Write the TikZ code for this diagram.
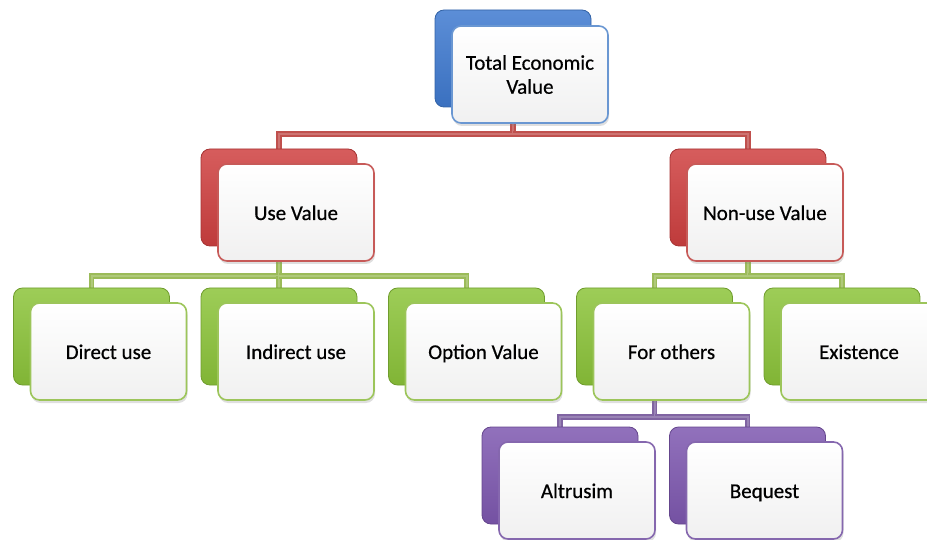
\documentclass[tikz,border=0pt]{standalone}
\usepackage{fontspec}
\setmainfont{Carlito}
\newfontfamily\boxfont[FakeBold=0.6]{Carlito}
\usetikzlibrary{shadows,backgrounds}
\definecolor{cblue}{HTML}{3F7AD0}
\definecolor{cred}{HTML}{CF4040}
\definecolor{cgreen}{HTML}{8CC43A}
\definecolor{cpurple}{HTML}{7E58B0}
\definecolor{lblue}{HTML}{6A97D2}
\definecolor{lred}{HTML}{C75A58}
\definecolor{lgreen}{HTML}{9CC55A}
\definecolor{lpurple}{HTML}{8567AE}
\definecolor{kred}{HTML}{C0504D}
\definecolor{kgreen}{HTML}{9BBB59}
\definecolor{kpurple}{HTML}{8064A2}
\begin{document}
\begin{tikzpicture}[x=1pt,y=-1pt,
  backbox/.style={rectangle, rounded corners=9pt, minimum width=156pt, minimum height=97pt,
    inner sep=0pt, draw=#1!80!black, line width=0.8pt, top color=#1!85!white, bottom color=#1!92!black},
  frontbox/.style={rectangle, rounded corners=9pt, minimum width=156pt, minimum height=97pt,
    inner sep=0pt, draw=#1, line width=1.6pt, top color=white, bottom color=#1!8!black!6!white,
    drop shadow={shadow xshift=1pt, shadow yshift=-3pt, opacity=0.25},
    font=\boxfont\fontsize{21}{24}\selectfont, align=center, text=black,
    text height=16pt, text depth=1pt},
  conn/.style={draw=#1, double=#1!80!white, double distance=2pt, line width=1.7pt}
]
\useasboundingbox (0,0) rectangle (927,540);
% top
\node[backbox=cblue] (tevb) at (513,58.5) {};
\node[frontbox=lblue, text height={}, text depth={}] (tev) at (530,74.5) {Total Economic\\Value};
% level 2
\node[backbox=cred] (uvb) at (279,197.5) {};
\node[frontbox=lred] (uv) at (296,212.5) {Use Value};
\node[backbox=cred] (nuvb) at (748,197.5) {};
\node[frontbox=lred] (nuv) at (765,212.5) {Non-use Value};
% level 3
\node[backbox=cgreen] (dub) at (91.5,336.5) {};
\node[frontbox=lgreen] (du) at (108.5,351.5) {Direct use};
\node[backbox=cgreen] (iub) at (279,336.5) {};
\node[frontbox=lgreen] (iu) at (296,351.5) {Indirect use};
\node[backbox=cgreen] (ovb) at (466.5,336.5) {};
\node[frontbox=lgreen] (ov) at (483.5,351.5) {Option Value};
\node[backbox=cgreen] (fob) at (654.5,336.5) {};
\node[frontbox=lgreen] (fo) at (671.5,351.5) {For others};
\node[backbox=cgreen] (exb) at (842,336.5) {};
\node[frontbox=lgreen] (ex) at (859,351.5) {Existence};
% level 4
\node[backbox=cpurple] (alb) at (560,475.5) {};
\node[frontbox=lpurple] (al) at (577,490.5) {Altrusim};
\node[backbox=cpurple] (beb) at (747.5,475.5) {};
\node[frontbox=lpurple] (be) at (764.5,490.5) {Bequest};
% bars
\coordinate (bar1) at (0,134);
\coordinate (bar2) at (0,276);
\coordinate (bar3) at (0,417);
\begin{pgfonlayer}{background}
\draw[conn=kred] (tevb.south) -- (tevb.south |- bar1) -| (uvb.north);
\draw[conn=kred] (tevb.south |- bar1) -| (nuvb.north);
\draw[conn=kgreen] (uvb.south) -- (uvb.south |- bar2) -| (dub.north);
\draw[conn=kgreen] (uvb.south |- bar2) -- (iub.north);
\draw[conn=kgreen] (uvb.south |- bar2) -| (ovb.north);
\draw[conn=kgreen] (nuvb.south) -- (nuvb.south |- bar2) -| (fob.north);
\draw[conn=kgreen] (nuvb.south |- bar2) -| (exb.north);
\draw[conn=kpurple] (fob.south) -- (fob.south |- bar3) -| (alb.north);
\draw[conn=kpurple] (fob.south |- bar3) -| (beb.north);
\end{pgfonlayer}
\end{tikzpicture}
\end{document}
